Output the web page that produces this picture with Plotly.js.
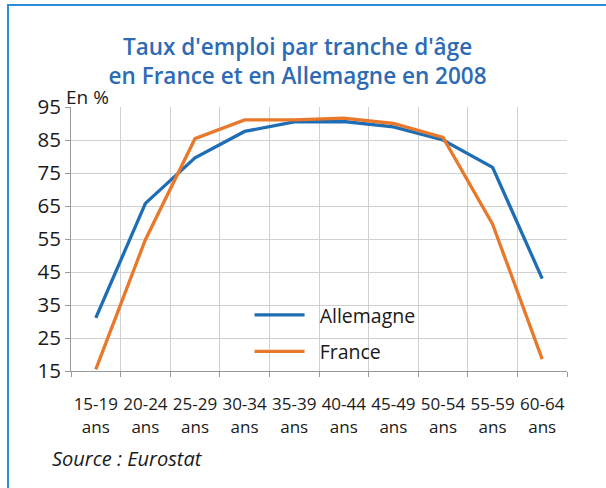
<!DOCTYPE html>
<html>
<head>
<meta charset="utf-8">
<script src="https://cdn.plot.ly/plotly-3.0.1.min.js"></script>
<style>
html,body{margin:0;padding:0;background:#fff;}
#wrap{position:relative;width:606px;height:488px;overflow:hidden;}
#chart{position:absolute;left:0;top:0;width:606px;height:488px;}
#frame{position:absolute;left:7px;top:4px;width:700px;height:600px;border-left:2px solid #2a8fd6;border-top:2px solid #2a8fd6;pointer-events:none;}
</style>
</head>
<body>
<div id="wrap"><div id="chart"></div><div id="frame"></div></div>
<script>
var categories = ["15-19<br>ans","20-24<br>ans","25-29<br>ans","30-34<br>ans","35-39<br>ans","40-44<br>ans","45-49<br>ans","50-54<br>ans","55-59<br>ans","60-64<br>ans"];
var allemagne = [31.1, 65.8, 79.6, 87.6, 90.5, 90.6, 89.0, 85.0, 76.7, 43.0];
var france = [15.5, 54.8, 85.4, 91.1, 91.1, 91.6, 90.0, 85.8, 59.5, 18.6];
var yTicks = [15, 25, 35, 45, 55, 65, 75, 85, 95];
var seriesNames = ["Allemagne", "France"];

var FONT = "'Open Sans', Lato, sans-serif";
var PAD = "\u00a0\u00a0";
var traces = [
  {x: categories, y: allemagne, name: PAD + seriesNames[0], legendgroup: "a", type: "scatter", mode: "lines",
   line: {color: "#1f6db5", width: 3.3}},
  {x: categories, y: france, name: PAD + seriesNames[1], legendgroup: "b", type: "scatter", mode: "lines",
   line: {color: "#e8792b", width: 3.3}}
];
var layout = {
  width: 606, height: 488,
  margin: {l: 71, r: 39, t: 107, b: 117},
  paper_bgcolor: "#ffffff", plot_bgcolor: "#ffffff",
  font: {family: FONT, color: "#1a1a1a"},
  title: {text: "Taux d'emploi par tranche d'âge<br>en France et en Allemagne en 2008",
          font: {family: FONT, size: 22.5, color: "#2e6bb5", weight: 600},
          x: 0.491, xanchor: "center", y: 0.888, yanchor: "top"},
  xaxis: {type: "category", tickson: "boundaries", ticks: "outside", ticklen: 5, tickangle: 0,
          tickcolor: "#999", showline: true, linecolor: "#999", linewidth: 1,
          showgrid: true, gridcolor: "#d0d0d0", gridwidth: 1, ticklabelstandoff: 18,
          tickfont: {family: FONT, size: 17, color: "#1a1a1a"}, automargin: false,
          range: [-0.5, 9.5], fixedrange: true},
  yaxis: {range: [15, 95], tickvals: yTicks, ticktext: yTicks.map(String),
          ticks: "outside", ticklen: 5, tickcolor: "#999", showline: true, linecolor: "#999",
          showgrid: true, gridcolor: "#d0d0d0", gridwidth: 1, zeroline: false,
          tickfont: {family: FONT, size: 20.5, color: "#1a1a1a"}, automargin: false, fixedrange: true},
  showlegend: true,
  legend: {x: 0.36, xanchor: "left", y: 0.285, yanchor: "top", bgcolor: "rgba(0,0,0,0)",
           font: {family: FONT, size: 19.5, color: "#1a1a1a"}, itemwidth: 50, tracegroupgap: 8},
  annotations: [
    {text: "En %", xref: "paper", yref: "paper", x: -0.014, y: 1.036, xanchor: "left", yanchor: "middle",
     showarrow: false, font: {family: FONT, size: 19, color: "#1a1a1a"}},
    {text: "<i>Source : Eurostat</i>", xref: "paper", yref: "paper", x: -0.042, y: -0.333, xanchor: "left", yanchor: "middle",
     showarrow: false, font: {family: FONT, size: 20, color: "#1a1a1a"}}
  ]
};
Plotly.newPlot("chart", traces, layout, {displayModeBar: false, staticPlot: true});
</script>
</body>
</html>
